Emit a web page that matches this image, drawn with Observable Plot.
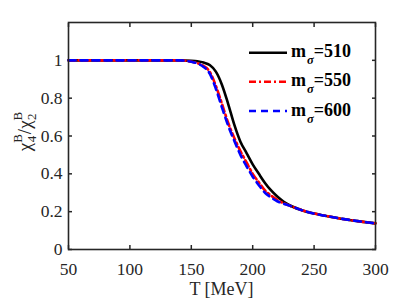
<!DOCTYPE html>
<html>
<head>
<meta charset="utf-8">
<script src="https://cdn.jsdelivr.net/npm/d3@7"></script>
<script src="https://cdn.jsdelivr.net/npm/@observablehq/plot@0.6"></script>
<style>
  html, body { margin: 0; padding: 0; background: #fff; }
  #chart { width: 415px; height: 302px; }
  #chart svg text { font-family: "Liberation Serif", "Times New Roman", serif; }
  #chart svg g[aria-label$="tick label"] text { font-size: 17.5px; }
</style>
</head>
<body>
<div id="chart"></div>
<script>
const T       = [50, 100, 140, 150, 155, 160, 165, 170, 175, 180, 185, 190, 195, 200, 205, 210, 215, 220, 225, 230, 240, 250, 260, 270, 280, 290, 300];
const chi510  = [1, 1, 1, 0.998, 0.995, 0.988, 0.975, 0.94, 0.87, 0.77, 0.66, 0.57, 0.51, 0.45, 0.40, 0.352, 0.312, 0.28, 0.254, 0.234, 0.208, 0.19, 0.177, 0.165, 0.155, 0.146, 0.138];
const chi550  = [1, 1, 1, 0.993, 0.985, 0.97, 0.94, 0.865, 0.77, 0.67, 0.59, 0.52, 0.46, 0.40, 0.355, 0.312, 0.285, 0.262, 0.245, 0.232, 0.208, 0.19, 0.177, 0.165, 0.155, 0.146, 0.138];
const chi600  = [1, 1, 1, 0.992, 0.983, 0.965, 0.93, 0.85, 0.75, 0.655, 0.575, 0.50, 0.44, 0.385, 0.34, 0.30, 0.275, 0.255, 0.242, 0.232, 0.208, 0.19, 0.177, 0.165, 0.155, 0.146, 0.138];
const seriesNames = ["510", "550", "600"];
const xTicks = [50, 100, 150, 200, 250, 300];
const yTicks = [0, 0.2, 0.4, 0.6, 0.8, 1];

const styles = {
  "510": {stroke: "#000000", dash: null},
  "550": {stroke: "#ff0000", dash: "7,3,2,3"},
  "600": {stroke: "#0000ff", dash: "7,5"}
};

const all = [chi510, chi550, chi600];
const data = [];
seriesNames.forEach((s, i) => T.forEach((t, j) => data.push({T: t, v: all[i][j], s})));

const ink = "#262626";
const serif = "Liberation Serif";
const fmt = d => String(d);
const chart = Plot.plot({
  width: 415, height: 302,
  marginLeft: 68, marginRight: 40, marginTop: 22, marginBottom: 53,
  x: {domain: [50, 300]},
  y: {domain: [0, 1.2]},
  style: {fontFamily: serif, fontSize: "17.5px", color: ink, background: "#fff", overflow: "visible"},
  marks: [
    Plot.axisX(xTicks, {anchor: "bottom", tickSize: 0, tickPadding: 13, label: null, fontSize: 17.5, fill: ink, tickFormat: fmt}),
    Plot.axisX(xTicks, {anchor: "bottom", tickSize: -4, tickFormat: () => "", label: null, stroke: ink, strokeWidth: 1.5}),
    Plot.axisX(xTicks, {anchor: "top", tickSize: -4, tickFormat: () => "", label: null, stroke: ink, strokeWidth: 1.5}),
    Plot.axisY(yTicks, {anchor: "left", tickSize: 0, tickPadding: 6, label: null, fontSize: 17.5, fill: ink, tickFormat: fmt}),
    Plot.axisY(yTicks, {anchor: "left", tickSize: -4, tickFormat: () => "", label: null, stroke: ink, strokeWidth: 1.5}),
    Plot.axisY(yTicks, {anchor: "right", tickSize: -4, tickFormat: () => "", label: null, stroke: ink, strokeWidth: 1.5}),
    ...seriesNames.map(s => Plot.line(data.filter(d => d.s === s), {
      x: "T", y: "v", stroke: styles[s].stroke, strokeWidth: 2.6,
      strokeDasharray: styles[s].dash, curve: "monotone-x"
    })),
    Plot.frame({stroke: ink, strokeWidth: 1.6})
  ]
});
document.getElementById("chart").appendChild(chart);

const svg = d3.select(chart).attr("font-family", serif);
svg.selectAll('g[aria-label$="tick label"]').attr("font-size", 17.5);
const xs = chart.scale("x"), ys = chart.scale("y");
const cx = (xs.range[0] + xs.range[1]) / 2;
const cy = (ys.range[0] + ys.range[1]) / 2;

// x axis label
svg.append("text")
  .attr("x", cx).attr("y", 295)
  .attr("text-anchor", "middle")
  .attr("font-size", 18).attr("fill", ink)
  .text("T [MeV]");

// y axis label: chi_4^B / chi_2^B
const yl = svg.append("text")
  .attr("transform", `translate(31,${cy - 4}) rotate(-90)`)
  .attr("text-anchor", "middle")
  .attr("font-size", 19).attr("fill", ink);
yl.append("tspan").text("χ");
yl.append("tspan").attr("font-size", 13).attr("dx", 0.5).attr("dy", 5).text("4");
yl.append("tspan").attr("font-size", 13).attr("dx", -7).attr("dy", -14).text("B");
yl.append("tspan").attr("dy", 9).text("/χ");
yl.append("tspan").attr("font-size", 13).attr("dx", 0.5).attr("dy", 5).text("2");
yl.append("tspan").attr("font-size", 13).attr("dx", -7).attr("dy", -14).text("B");

// legend
const legendRows = [52.7, 81.7, 111];
seriesNames.forEach((s, i) => {
  const y = legendRows[i];
  svg.append("line")
    .attr("x1", 249).attr("x2", 287).attr("y1", y).attr("y2", y)
    .attr("stroke", styles[s].stroke).attr("stroke-width", 2.6)
    .attr("stroke-dasharray", styles[s].dash);
  const t = svg.append("text")
    .attr("x", 291).attr("y", y + 4.5)
    .attr("text-anchor", "start")
    .attr("font-size", 18)
    .attr("font-weight", "bold").attr("fill", "#000");
  t.append("tspan").text("m");
  t.append("tspan").attr("font-size", 12.5).attr("font-style", "italic").attr("dx", 1).attr("dy", 7).text("σ");
  t.append("tspan").attr("dy", -7).text("=" + s);
});
</script>
</body>
</html>
